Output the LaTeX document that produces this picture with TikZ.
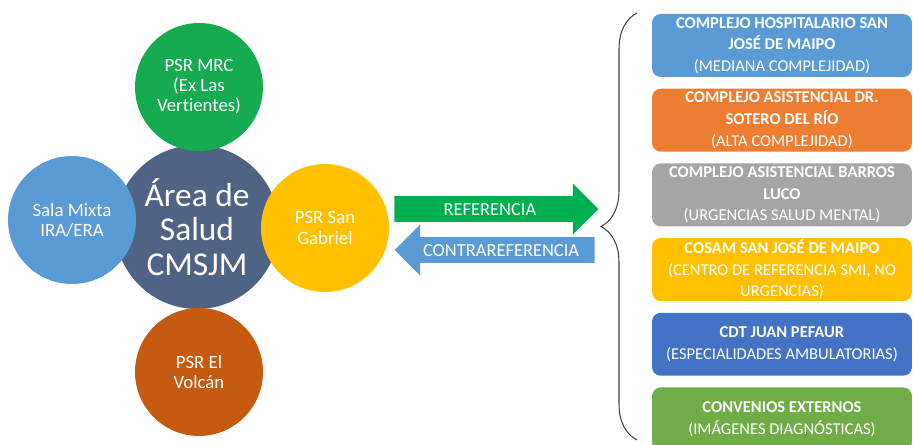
\documentclass[tikz,border=0pt]{standalone}
\usepackage{fontspec}
\setmainfont[Ligatures=NoCommon]{Carlito}
\usetikzlibrary{positioning,shapes.arrows,decorations.pathreplacing}
\definecolor{hubblue}{RGB}{79,99,132}
\definecolor{mrcgreen}{RGB}{22,171,80}
\definecolor{salablue}{RGB}{91,155,213}
\definecolor{gabyellow}{RGB}{255,192,0}
\definecolor{volcorange}{RGB}{197,90,17}
\definecolor{refgreen}{RGB}{0,176,80}
\definecolor{cblue}{RGB}{91,155,213}
\definecolor{hospblue}{RGB}{91,155,213}
\definecolor{soterorange}{RGB}{237,125,49}
\definecolor{barrosgray}{RGB}{165,165,165}
\definecolor{cosamyellow}{RGB}{255,192,0}
\definecolor{cdtblue}{RGB}{68,114,196}
\definecolor{convgreen}{RGB}{112,173,71}

\begin{document}
\begin{tikzpicture}[x=0.02cm, y=-0.02cm,
  node distance=0.22cm,
  circ/.style={circle, minimum size=2.56cm, inner sep=0pt, align=center,
               text=white, font=\fontsize{10.7}{11.5}\selectfont},
  unit/.style={rounded corners=5pt, minimum width=5.2cm, minimum height=1.26cm,
               inner ysep=0.5pt, align=center, text=white,
               font=\fontsize{9.4}{12.3}\selectfont},
  flow/.style={single arrow, single arrow head extend=0.25cm, inner ysep=3.6pt,
               text height=7pt, text depth=0pt, text=white,
               font=\fontsize{10.5}{12}\selectfont},
  grp/.style={decorate, decoration={brace, amplitude=0.72cm},
              draw=black!75, line width=0.6pt}]

\path[use as bounding box, fill=white] (0,0) rectangle (913,445);

% area de salud
\node[circ, fill=hubblue, minimum size=3.28cm, font=\fontsize{19}{19.5}\selectfont]
  (hub) at (197,227) {Área de\\Salud\\CMSJM};
\node[circ, fill=mrcgreen] (mrc) at (199,87) {PSR MRC\\(Ex Las\\Vertientes)};
\node[circ, fill=salablue] (sala) at (72,220) {Sala Mixta\\IRA/ERA};
\node[circ, fill=gabyellow] (gab) at (325,228) {PSR San\\Gabriel};
\node[circ, fill=volcorange] (volc) at (199,372) {PSR El\\Volcán};

% referencia / contrareferencia
\node[flow, fill=refgreen, minimum height=4.08cm, anchor=tail] (ref) at (394,209) {REFERENCIA};
\node[flow, fill=cblue, minimum height=4cm, shape border rotate=180, anchor=tail]
  (cref) at (595,250) {CONTRAREFERENCIA};

% red asistencial
\node[unit, fill=hospblue] (hosp) at (782,45.5)
  {\textbf{COMPLEJO HOSPITALARIO SAN}\\\textbf{JOSÉ DE MAIPO}\\(MEDIANA COMPLEJIDAD)};
\node[unit, fill=soterorange, below=of hosp] (sotero)
  {\textbf{COMPLEJO ASISTENCIAL DR.}\\\textbf{SOTERO DEL RÍO}\\(ALTA COMPLEJIDAD)};
\node[unit, fill=barrosgray, below=of sotero] (barros)
  {\textbf{COMPLEJO ASISTENCIAL BARROS}\\\textbf{LUCO}\\(URGENCIAS SALUD MENTAL)};
\node[unit, fill=cosamyellow, below=of barros] (cosam)
  {\textbf{COSAM SAN JOSÉ DE MAIPO}\\(CENTRO DE REFERENCIA SMI, NO\\URGENCIAS)};
\node[unit, fill=cdtblue, below=of cosam] (cdt)
  {\textbf{CDT JUAN PEFAUR}\\(ESPECIALIDADES AMBULATORIAS)};
\node[unit, fill=convgreen, below=of cdt] (conv)
  {\textbf{CONVENIOS EXTERNOS}\\(IMÁGENES DIAGNÓSTICAS)};

\coordinate (grpbot) at (637,440);
\coordinate (grptop) at (637,13);
\draw[grp] (grpbot) -- (grptop);
\end{tikzpicture}
\end{document}
